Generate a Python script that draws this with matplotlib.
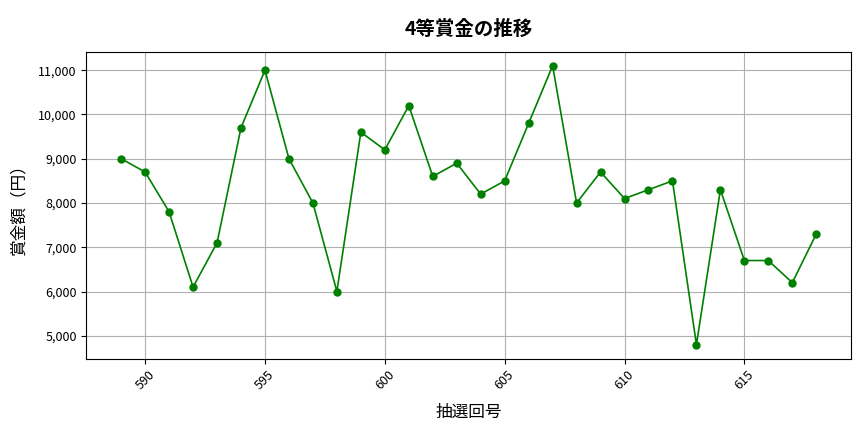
import matplotlib
matplotlib.use("Agg")
import matplotlib.pyplot as plt
import matplotlib.ticker as mticker

plt.rcParams['font.family'] = ['Noto Sans CJK JP', 'DejaVu Sans']

draws = list(range(589, 619))
prize = [9000, 8700, 7800, 6100, 7100, 9700, 11000, 9000, 8000, 6000,
         9600, 9200, 10200, 8600, 8900, 8200, 8500, 9800, 11100, 8000,
         8700, 8100, 8300, 8500, 4800, 8300, 6700, 6700, 6200, 7300]

fig, ax = plt.subplots(figsize=(8.64, 4.32), dpi=100)
ax.plot(draws, prize, marker='o', color='green', markersize=5, linewidth=1.2)

ax.set_title('4等賞金の推移', fontsize=14, fontweight='bold', pad=12)
ax.set_xlabel('抽選回号', fontsize=12, labelpad=8)
ax.set_ylabel('賞金額（円）', fontsize=12, labelpad=8)
ax.yaxis.set_major_formatter(mticker.FuncFormatter(lambda v, p: f'{int(v):,}'))
ax.xaxis.set_major_locator(mticker.MultipleLocator(5))
ax.tick_params(axis='x', rotation=45, labelsize=9)
ax.tick_params(axis='y', labelsize=9)
ax.grid(True, color='#b0b0b0', linewidth=0.8)

fig.subplots_adjust(left=0.1, right=0.985, top=0.88, bottom=0.17)
fig.savefig('out.png')
